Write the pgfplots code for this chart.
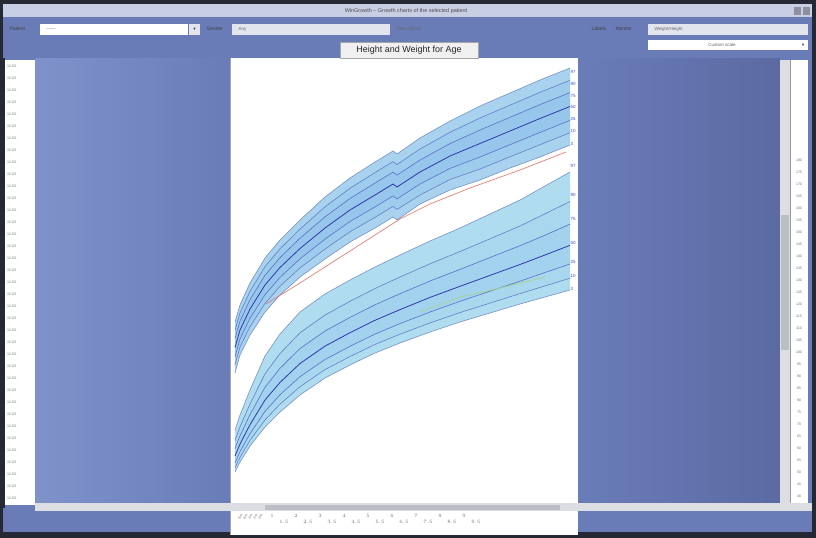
\documentclass[border=0pt]{standalone}
\usepackage{amssymb}
\usepackage{pgfplots}
\pgfplotsset{compat=1.18}
\usepackage{pgfplotstable}
\usepgfplotslibrary{fillbetween}
\tikzset{fill between/on layer=main}
\usepackage{fontspec}
\setmainfont{Liberation Sans}
\newcommand\ui[1]{\fontsize{#1}{#1}\selectfont}
\definecolor{frame}{RGB}{38,40,52}
\definecolor{titlebar}{RGB}{200,206,228}
\definecolor{slate}{RGB}{106,124,184}
\definecolor{slateL}{RGB}{128,146,202}
\definecolor{slateD}{RGB}{92,106,162}
\definecolor{fieldg}{RGB}{226,229,238}
\definecolor{sbar}{RGB}{220,222,228}
\definecolor{sthumb}{RGB}{188,190,198}
\definecolor{hOut}{RGB}{168,210,237}
\definecolor{hIn}{RGB}{158,204,236}
\definecolor{hMid}{RGB}{150,198,235}
\definecolor{wOut}{RGB}{176,220,239}
\definecolor{wIn}{RGB}{168,215,238}
\definecolor{wMid}{RGB}{162,210,237}
\definecolor{lEdge}{RGB}{120,145,200}
\definecolor{lMid}{RGB}{100,125,200}
\definecolor{lIn}{RGB}{88,110,200}
\definecolor{lMed}{RGB}{48,55,170}
\definecolor{patR}{RGB}{232,112,100}
\definecolor{patG}{RGB}{165,212,150}
\definecolor{lblue}{RGB}{60,80,190}

\pgfplotstableread{
x h97 h90 h75 h50 h25 h10 h3
235 322 330.2 338.3 347.5 356.7 364.8 373
240 305 313 321 330 339 347 355
250 283 291.3 299.6 309 318.4 326.7 335
265 258 266.6 275.3 285 294.7 303.4 312
280 240 248.8 257.6 267.5 277.4 286.2 295
300 220 229.1 238.2 248.5 258.8 267.9 277
325 197 206.9 216.8 228 239.2 249.1 259
350 178 188.2 198.5 210 221.5 231.8 242
375 162 172.6 183.1 195 206.9 217.4 228
393 151 161.6 172.1 184 195.9 206.4 217
397 154 164.6 175.1 187 198.9 209.4 220
420 138 149 160 172 184 195 204
450 121 132.3 143.6 156 168.4 179.5 190
480 106 118 130 143.5 157 169 180
510 93 105.2 117.3 131 144.7 156.8 168
540 80 92.3 104.6 118.5 132.4 144.7 157
570 68 80.3 92.6 106.5 120.4 132.7 145
}\heighttab

\pgfplotstableread{
x w97 w90 w75 w50 w25 w10 w3
235 430 440.5 448.5 456 462.8 467.8 472
240 415 426.8 435.7 444.1 451.7 457.3 462
250 390 404 414.6 424.7 433.7 440.4 446
265 356 373.8 387.2 400 411.4 419.9 427
280 334 353.5 368.3 382.4 394.8 404.2 412
300 312 332.8 348.5 363.5 376.7 386.7 395
325 294 315 331 346.1 359.5 369.6 378
350 280 301.3 317.4 332.7 346.3 356.5 365
375 267 288.5 304.8 320.3 334.1 344.4 353
400 255 277 293.7 309.6 323.6 334.2 343
430 241 263.8 281 297.4 312 322.9 332
460 228 251.5 269.4 286.3 301.3 312.6 322
490 214 238.8 257.5 275.4 291.2 303.1 313
520 200 226 245.7 264.5 281.2 293.6 304
545 186 213.8 235.2 255 272.5 285.9 297
570 172 201.5 224.1 245.3 264 278.2 290
}\weighttab

\begin{document}
\begin{tikzpicture}
% window background
\begin{scope}[x=1bp,y=-1bp]
\fill[frame] (0,0) rectangle (816,538);
\fill[titlebar] (3,4) rectangle (812,17);
\fill[slate] (3,17) rectangle (812,532);
\shade[left color=slateL, right color=slate] (35,58) rectangle (230,502);
\shade[left color=slate, right color=slateD] (578,58) rectangle (780,502);
\fill[white] (230,58) rectangle (578,535);
\draw[gray!70, line width=0.8] (230.5,58) -- (230.5,535);
\end{scope}

\begin{axis}[
  at={(230bp,-58bp)}, anchor=north west,
  scale only axis, width=348bp, height=452bp,
  xmin=230, xmax=578, ymin=58, ymax=510, y dir=reverse,
  axis line style={draw=none}, xtick=\empty, ytick=\empty,
  clip=false,
]
% height band
\addplot[name path=h97, draw=none] table[x=x,y=h97] {\heighttab};
\addplot[name path=h90, draw=none] table[x=x,y=h90] {\heighttab};
\addplot[name path=h75, draw=none] table[x=x,y=h75] {\heighttab};
\addplot[name path=h25, draw=none] table[x=x,y=h25] {\heighttab};
\addplot[name path=h10, draw=none] table[x=x,y=h10] {\heighttab};
\addplot[name path=h3, draw=none] table[x=x,y=h3] {\heighttab};
\addplot[hOut] fill between[of=h97 and h90];
\addplot[hIn] fill between[of=h90 and h75];
\addplot[hMid] fill between[of=h75 and h25];
\addplot[hIn] fill between[of=h25 and h10];
\addplot[hOut] fill between[of=h10 and h3];
% weight band
\addplot[name path=w97, draw=none] table[x=x,y=w97] {\weighttab};
\addplot[name path=w90, draw=none] table[x=x,y=w90] {\weighttab};
\addplot[name path=w75, draw=none] table[x=x,y=w75] {\weighttab};
\addplot[name path=w25, draw=none] table[x=x,y=w25] {\weighttab};
\addplot[name path=w10, draw=none] table[x=x,y=w10] {\weighttab};
\addplot[name path=w3, draw=none] table[x=x,y=w3] {\weighttab};
\addplot[wOut] fill between[of=w97 and w90];
\addplot[wIn] fill between[of=w90 and w75];
\addplot[wMid] fill between[of=w75 and w25];
\addplot[wIn] fill between[of=w25 and w10];
\addplot[wOut] fill between[of=w10 and w3];
% percentile lines on top of fills
\addplot[lEdge, line width=0.6] table[x=x,y=h97] {\heighttab};
\addplot[lMid, line width=0.6] table[x=x,y=h90] {\heighttab};
\addplot[lIn, line width=0.6] table[x=x,y=h75] {\heighttab};
\addplot[lMed, line width=0.8] table[x=x,y=h50] {\heighttab};
\addplot[lIn, line width=0.6] table[x=x,y=h25] {\heighttab};
\addplot[lMid, line width=0.6] table[x=x,y=h10] {\heighttab};
\addplot[lEdge, line width=0.6] table[x=x,y=h3] {\heighttab};
\addplot[lEdge, line width=0.6] table[x=x,y=w97] {\weighttab};
\addplot[lMid, line width=0.6] table[x=x,y=w90] {\weighttab};
\addplot[lIn, line width=0.6] table[x=x,y=w75] {\weighttab};
\addplot[lMed, line width=0.8] table[x=x,y=w50] {\weighttab};
\addplot[lIn, line width=0.6] table[x=x,y=w25] {\weighttab};
\addplot[lMid, line width=0.6] table[x=x,y=w10] {\weighttab};
\addplot[lEdge, line width=0.6] table[x=x,y=w3] {\weighttab};
% patient measurements
\addplot[patR, line width=0.6] coordinates {(266,304) (300,283) (350,251) (400,219) (430,204) (470,188) (520,170) (566,152)};
\addplot[patG, line width=0.8] coordinates {(420,312) (460,297) (500,288) (545,277)};
% percentile labels
\foreach \yy/\lab in {72/97,84/90,96/75,107/50,119/25,131/10,144/3} {
  \edef\tmp{\noexpand\node[font=\noexpand\ui{4.5}, text=lblue, anchor=west, inner sep=0.5pt] at (axis cs:570,\yy) {\lab};}\tmp
}
\foreach \yy/\lab in {166/97,195/90,219/75,243/50,262/25,276/10,289/3} {
  \edef\tmp{\noexpand\node[font=\noexpand\ui{4.5}, text=lblue, anchor=west, inner sep=0.5pt] at (axis cs:570,\yy) {\lab};}\tmp
}
\end{axis}

% window chrome on top
\begin{scope}[x=1bp,y=-1bp]
% title bar
\node[font=\ui{5.5}, text=black!70] at (406,11) {WinGrowth -- Growth charts of the selected patient};
\fill[titlebar!70!black] (794,7) rectangle (801,15);
\fill[titlebar!70!black] (803,7) rectangle (810,15);
% toolbar
\node[font=\ui{5}, text=black!75, anchor=west] at (6,29) {Patient};
\fill[white] (40,24) rectangle (188,35);
\node[font=\ui{4.5}, text=black!60, anchor=west] at (43,29.5) {------};
\fill[fieldg] (189,24) rectangle (200,35);
\node[font=\ui{4}, text=black!70] at (194.5,29.5) {$\blacktriangledown$};
\node[font=\ui{5}, text=black!75, anchor=west] at (203,29) {Gender};
\fill[fieldg] (232,24) rectangle (390,35);
\node[font=\ui{4.5}, text=black!60, anchor=west] at (235,29.5) {Any};
\node[font=\ui{5}, text=black!60, anchor=west] at (393,29) {Description};
\node[font=\ui{5}, text=black!75, anchor=west] at (588,29) {Labels};
\node[font=\ui{5}, text=black!75, anchor=west] at (612,29) {Monitor};
\fill[fieldg] (648,24) rectangle (808,35);
\node[font=\ui{4.5}, text=black!60, anchor=west] at (651,29.5) {Weight/Height};
\fill[white] (648,40) rectangle (808,50);
\node[font=\ui{4.5}, text=black!60] at (722,45) {Custom scale};
\node[font=\ui{4}, text=black!70] at (803,45) {$\blacktriangledown$};
% chart title button
\draw[fill=black!6, draw=black!35, line width=0.5] (340,42) rectangle (478,58);
\node[font=\ui{9}, text=black!85] at (409,50) {Height and Weight for Age};
% left list
\fill[frame] (3,58) rectangle (5,508);
\fill[white] (5,60) rectangle (35,505);
\foreach \i in {0,...,36} {
  \node[font=\ui{3.6}, text=black!55, anchor=west, inner sep=0] at (7,{66+12*\i}) {12.03.};
}
% right panel
\fill[sbar] (780,60) rectangle (790,505);
\fill[sthumb] (781,215) rectangle (789,350);
\fill[white] (790,60) rectangle (808,505);
\draw[black!40, line width=0.4] (790,60) -- (790,505);
\foreach \i in {0,...,28} {
  \node[font=\ui{3.6}, text=black!55, inner sep=0] at (799,{160+12*\i}) {\pgfmathparse{int(180-5*\i)}\pgfmathresult};
}
% bottom scrollbar
\fill[sbar] (35,503) rectangle (812,511);
\fill[sthumb] (265,504.5) rectangle (560,509.5);
% x tick labels under the chart
\foreach \i in {0,...,4} {
  \node[font=\ui{3.6}, text=black!55, rotate=60, anchor=east, inner sep=0] at ({262-5*\i},514) {\pgfmathparse{int(2*\i)}\pgfmathresult\,m};
}
\foreach \i in {0,...,8} {
  \node[font=\ui{3.6}, text=black!55, inner sep=0] at ({272+24*\i},515.5) {\pgfmathparse{1+\i}\pgfmathprintnumber[fixed,precision=1]{\pgfmathresult}};
  \node[font=\ui{3.6}, text=black!55, inner sep=0] at ({284+24*\i},522) {\pgfmathparse{1.5+\i}\pgfmathprintnumber[fixed,precision=1]{\pgfmathresult}};
}
\end{scope}
\pgfresetboundingbox
\path (0,0) rectangle (816bp,-538bp);
\end{tikzpicture}
\end{document}
